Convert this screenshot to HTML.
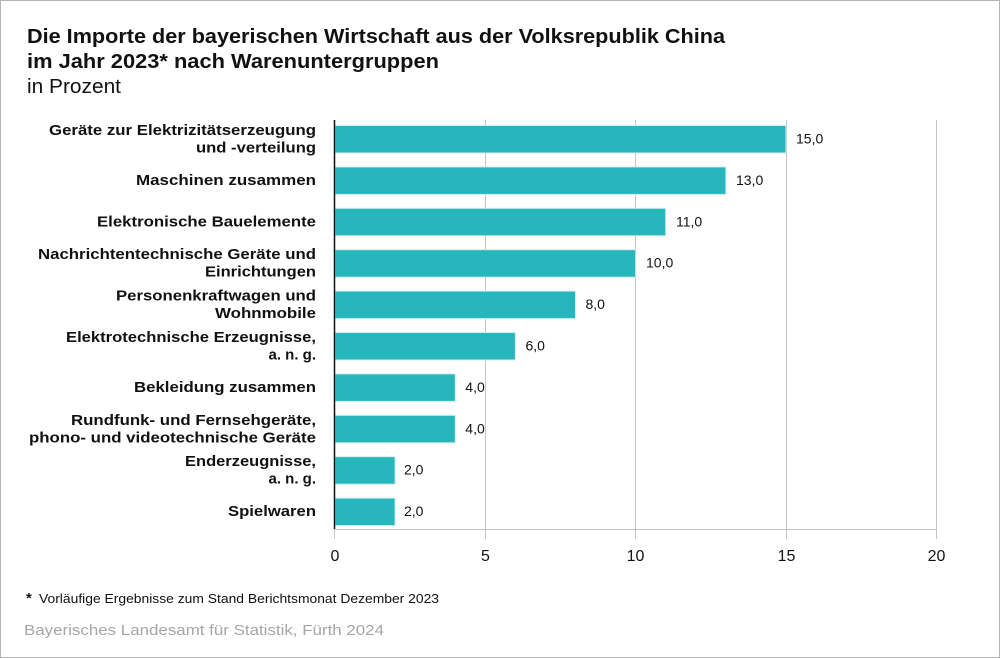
<!DOCTYPE html>
<html><head><meta charset="utf-8"><style>
html,body{margin:0;padding:0;background:#fff;}
svg{display:block;}
text{font-family:"Liberation Sans",Arial,sans-serif;}
</style></head><body>
<svg width="1000" height="658" viewBox="0 0 1000 658" xmlns="http://www.w3.org/2000/svg">
<rect x="0.5" y="0.5" width="999" height="657" fill="#fff" stroke="#b4b4b4" stroke-width="1"/>
<!-- Title -->
<text x="27" y="43" font-size="20" font-weight="bold" fill="#111" textLength="698" lengthAdjust="spacingAndGlyphs">Die Importe der bayerischen Wirtschaft aus der Volksrepublik China</text>
<text x="27" y="68" font-size="20" font-weight="bold" fill="#111" textLength="412" lengthAdjust="spacingAndGlyphs">im Jahr 2023* nach Warenuntergruppen</text>
<text x="27" y="93" font-size="20" fill="#111" textLength="94" lengthAdjust="spacingAndGlyphs">in Prozent</text>

<!-- gridlines -->
<g stroke="#c4c4c4" stroke-width="1">
<line x1="485.5" y1="120" x2="485.5" y2="539"/>
<line x1="635.5" y1="120" x2="635.5" y2="539"/>
<line x1="786.5" y1="120" x2="786.5" y2="539"/>
<line x1="936.5" y1="120" x2="936.5" y2="539"/>
<line x1="335" y1="529.5" x2="937" y2="529.5"/>
<line x1="334.5" y1="529" x2="334.5" y2="539"/>
</g>

<!-- bars -->
<g fill="#26b6bb" stroke="#d2eeee" stroke-width="1">
<rect x="335" y="125.5" width="451" height="27.5"/>
<rect x="335" y="166.9" width="390.9" height="27.5"/>
<rect x="335" y="208.3" width="330.7" height="27.5"/>
<rect x="335" y="249.7" width="300.7" height="27.5"/>
<rect x="335" y="291.1" width="240.5" height="27.5"/>
<rect x="335" y="332.5" width="180.4" height="27.5"/>
<rect x="335" y="373.9" width="120.3" height="27.5"/>
<rect x="335" y="415.3" width="120.3" height="27.5"/>
<rect x="335" y="456.7" width="60.1" height="27.5"/>
<rect x="335" y="498.1" width="60.1" height="27.5"/>
</g>
<line x1="334.5" y1="120" x2="334.5" y2="529" stroke="#111" stroke-width="1.5"/>

<!-- value labels -->
<g font-size="14" fill="#111">
<text x="796" y="143.5">15,0</text>
<text x="736" y="184.9">13,0</text>
<text x="676" y="226.3">11,0</text>
<text x="646" y="267.7">10,0</text>
<text x="585.5" y="309.1">8,0</text>
<text x="525.5" y="350.5">6,0</text>
<text x="465.3" y="391.9">4,0</text>
<text x="465.3" y="433.3">4,0</text>
<text x="404" y="474.7">2,0</text>
<text x="404" y="516.1">2,0</text>
</g>

<!-- category labels -->
<g font-size="15" font-weight="bold" fill="#111" text-anchor="end">
<text x="316" y="135" textLength="267" lengthAdjust="spacingAndGlyphs">Geräte zur Elektrizitätserzeugung</text>
<text x="316" y="152.5" textLength="120" lengthAdjust="spacingAndGlyphs">und -verteilung</text>
<text x="316" y="185" textLength="180" lengthAdjust="spacingAndGlyphs">Maschinen zusammen</text>
<text x="316" y="226.6" textLength="219" lengthAdjust="spacingAndGlyphs">Elektronische Bauelemente</text>
<text x="316" y="259.2" textLength="278" lengthAdjust="spacingAndGlyphs">Nachrichtentechnische Geräte und</text>
<text x="316" y="276.7" textLength="111" lengthAdjust="spacingAndGlyphs">Einrichtungen</text>
<text x="316" y="300.6" textLength="200" lengthAdjust="spacingAndGlyphs">Personenkraftwagen und</text>
<text x="316" y="318.1" textLength="101" lengthAdjust="spacingAndGlyphs">Wohnmobile</text>
<text x="316" y="342" textLength="250" lengthAdjust="spacingAndGlyphs">Elektrotechnische Erzeugnisse,</text>
<text x="316" y="359.5">a. n. g.</text>
<text x="316" y="391.9" textLength="182" lengthAdjust="spacingAndGlyphs">Bekleidung zusammen</text>
<text x="316" y="424.8" textLength="245" lengthAdjust="spacingAndGlyphs">Rundfunk- und Fernsehgeräte,</text>
<text x="316" y="442.3" textLength="287" lengthAdjust="spacingAndGlyphs">phono- und videotechnische Geräte</text>
<text x="316" y="466.2" textLength="131" lengthAdjust="spacingAndGlyphs">Enderzeugnisse,</text>
<text x="316" y="483.7">a. n. g.</text>
<text x="316" y="516.1" textLength="88" lengthAdjust="spacingAndGlyphs">Spielwaren</text>
</g>

<!-- tick labels -->
<g font-size="16" fill="#111" text-anchor="middle">
<text x="335" y="561">0</text>
<text x="485.5" y="561">5</text>
<text x="635.5" y="561">10</text>
<text x="786.5" y="561">15</text>
<text x="936.5" y="561">20</text>
</g>

<!-- footnotes -->
<text x="26" y="603" font-size="15" font-weight="bold" fill="#111">*</text>
<text x="39" y="603" font-size="13" fill="#111" textLength="400" lengthAdjust="spacingAndGlyphs">Vorläufige Ergebnisse zum Stand Berichtsmonat Dezember 2023</text>
<text x="24" y="635" font-size="15" fill="#a6a6a6" textLength="360" lengthAdjust="spacingAndGlyphs">Bayerisches Landesamt für Statistik, Fürth 2024</text>
</svg>
</body></html>
